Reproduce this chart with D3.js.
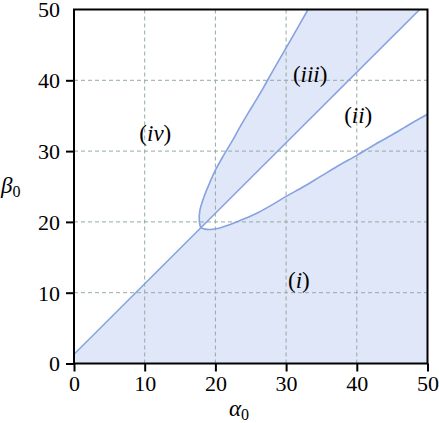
<!DOCTYPE html>
<meta charset="utf-8">
<script src="https://d3js.org/d3.v7.min.js"></script>
<style>
	body{ margin:0; background:#fff; }
	svg text, svg tspan{ font-family: "Liberation Serif", "Times New Roman", serif !important; }
</style>
<body>
<script>
	// tick values on both axes
	var alphaTicks = [0,10,20,30,40,50]
	var betaTicks = [0,10,20,30,40,50]
	var gridVals = [10,20,30,40]

	// straight boundary (i)/(iv) and (iii)/(ii)
	var divLine = [[0,1.3],[48.9,50]]
	// curved boundary, both branches start at the tip
	var upperBranch = [[17.9,19.2],[17.72,20.2],[17.8,21.6],[18.3,23.3],[19.1,25.3],[20.0,27.3],[21.1,29.3],[22.3,31.3],[23.7,33.8],[25.2,36.3],[26.7,38.8],[28.1,41.3],[31.0,46.3],[33.1,50]]
	var lowerBranch = [[17.9,19.2],[18.5,18.98],[19.3,18.93],[20.5,19.1],[22,19.6],[24,20.4],[26,21.3],[28,22.4],[30,23.6],[32.5,25],[35,26.5],[37.5,28],[40,29.4],[42.5,30.9],[45,32.3],[47.5,33.8],[50,35.2]]

	var regionLabels = [
		{txt:"iv", a:11.5, b:31.4},
		{txt:"iii", a:33.4, b:39.8},
		{txt:"ii", a:40.2, b:34.0},
		{txt:"i", a:31.8, b:10.7}
	]

	var W = 439, H = 423
	var pLeft = 74, pRight = 427.5, pTop = 9.5, pBottom = 363.5
	var fontName = "'" + "Liberation Serif" + "'"

	var fillColor = "#e0e7f8"
	var lineColor = "#86a2e0"
	var gridColor = "#93aba5"

	var svg = d3.select("body").append("svg").attr("width",W).attr("height",H)
	svg.append("rect").attr("width",W).attr("height",H).attr("fill","#fff")

	var x = d3.scaleLinear().domain([0,50]).range([pLeft,pRight])
	var y = d3.scaleLinear().domain([0,50]).range([pBottom,pTop])

	svg.append("clipPath").attr("id","plotclip").append("rect")
		.attr("x",pLeft).attr("y",pTop).attr("width",pRight-pLeft).attr("height",pBottom-pTop)

	var plot = svg.append("g").attr("clip-path","url(#plotclip)")

	var curveGen = d3.line().x(function(d){return x(d[0])}).y(function(d){return y(d[1])}).curve(d3.curveCatmullRom.alpha(0.5))
	var straight = d3.line().x(function(d){return x(d[0])}).y(function(d){return y(d[1])})

	// region (i): below line and lower branch
	var tip = lowerBranch[0]
	var pathI = "M"+x(0)+","+y(0)+"L"+x(divLine[0][0])+","+y(divLine[0][1])+"L"+x(tip[0])+","+y(tip[1])
		+ curveGen(lowerBranch).replace(/^M/,"L")
		+ "L"+x(50)+","+y(0)+"Z"
	plot.append("path").attr("d",pathI).attr("fill",fillColor)

	// region (iii): between upper branch and line
	var pathIII = curveGen(upperBranch) + "L"+x(divLine[1][0])+","+y(divLine[1][1])+"Z"
	plot.append("path").attr("d",pathIII).attr("fill",fillColor)

	// grid
	plot.selectAll(".vgrid").data(gridVals).enter().append("line")
		.attr("x1",function(d){return x(d)}).attr("x2",function(d){return x(d)})
		.attr("y1",pTop).attr("y2",pBottom)
		.attr("stroke",gridColor).attr("stroke-width",1).attr("stroke-dasharray","4,3")
	plot.selectAll(".hgrid").data(gridVals).enter().append("line")
		.attr("y1",function(d){return y(d)}).attr("y2",function(d){return y(d)})
		.attr("x1",pLeft).attr("x2",pRight)
		.attr("stroke",gridColor).attr("stroke-width",1).attr("stroke-dasharray","4,3")

	// boundaries
	plot.append("path").attr("d",straight(divLine)).attr("fill","none").attr("stroke",lineColor).attr("stroke-width",1.6)
	plot.append("path").attr("d",curveGen(upperBranch)).attr("fill","none").attr("stroke",lineColor).attr("stroke-width",1.6)
	plot.append("path").attr("d",curveGen(lowerBranch)).attr("fill","none").attr("stroke",lineColor).attr("stroke-width",1.6)

	// region labels, (roman parens, italic letters)
	regionLabels.forEach(function(r){
		var t = svg.append("text").attr("x",x(r.a)).attr("y",y(r.b)).attr("text-anchor","middle")
			.style("font-family",fontName).style("font-size","23px")
		t.append("tspan").text("(")
		t.append("tspan").text(r.txt).style("font-style","italic")
		t.append("tspan").text(")")
	})

	// axes
	var xAxis = d3.axisBottom(x).tickValues(alphaTicks).tickSize(8).tickPadding(4).tickFormat(d3.format("d"))
	var gx = svg.append("g").attr("transform","translate(0,"+pBottom+")").call(xAxis)
	var yAxis = d3.axisLeft(y).tickValues(betaTicks).tickSize(8).tickPadding(6).tickFormat(d3.format("d"))
	var gy = svg.append("g").attr("transform","translate("+pLeft+",0)").call(yAxis)
	;[gx,gy].forEach(function(g){
		g.attr("font-family",null).attr("font-size",null)
		g.select(".domain").remove()
		g.selectAll("line").attr("stroke","#000").attr("stroke-width",2)
		g.selectAll("text").style("font-family",fontName).style("font-size","22px").attr("fill","#000")
	})
	gy.selectAll(".tick").filter(function(d){return d==50}).select("line").remove()
	gy.selectAll("text").attr("dy","0.34em")

	svg.append("rect").attr("x",pLeft).attr("y",pTop).attr("width",pRight-pLeft).attr("height",pBottom-pTop)
		.attr("fill","none").attr("stroke","#000").attr("stroke-width",2)

	// axis titles
	var xl = svg.append("text").attr("x",229).attr("y",416).style("font-family",fontName).style("font-size","23px")
	xl.append("tspan").text("α").style("font-style","italic")
	xl.append("tspan").text("0").style("font-size","16px").attr("dy",4)
	var yl = svg.append("text").attr("x",1).attr("y",193).style("font-family",fontName).style("font-size","23px")
	yl.append("tspan").text("β").style("font-style","italic")
	yl.append("tspan").text("0").style("font-size","16px").attr("dy",4)
</script>
</body>
